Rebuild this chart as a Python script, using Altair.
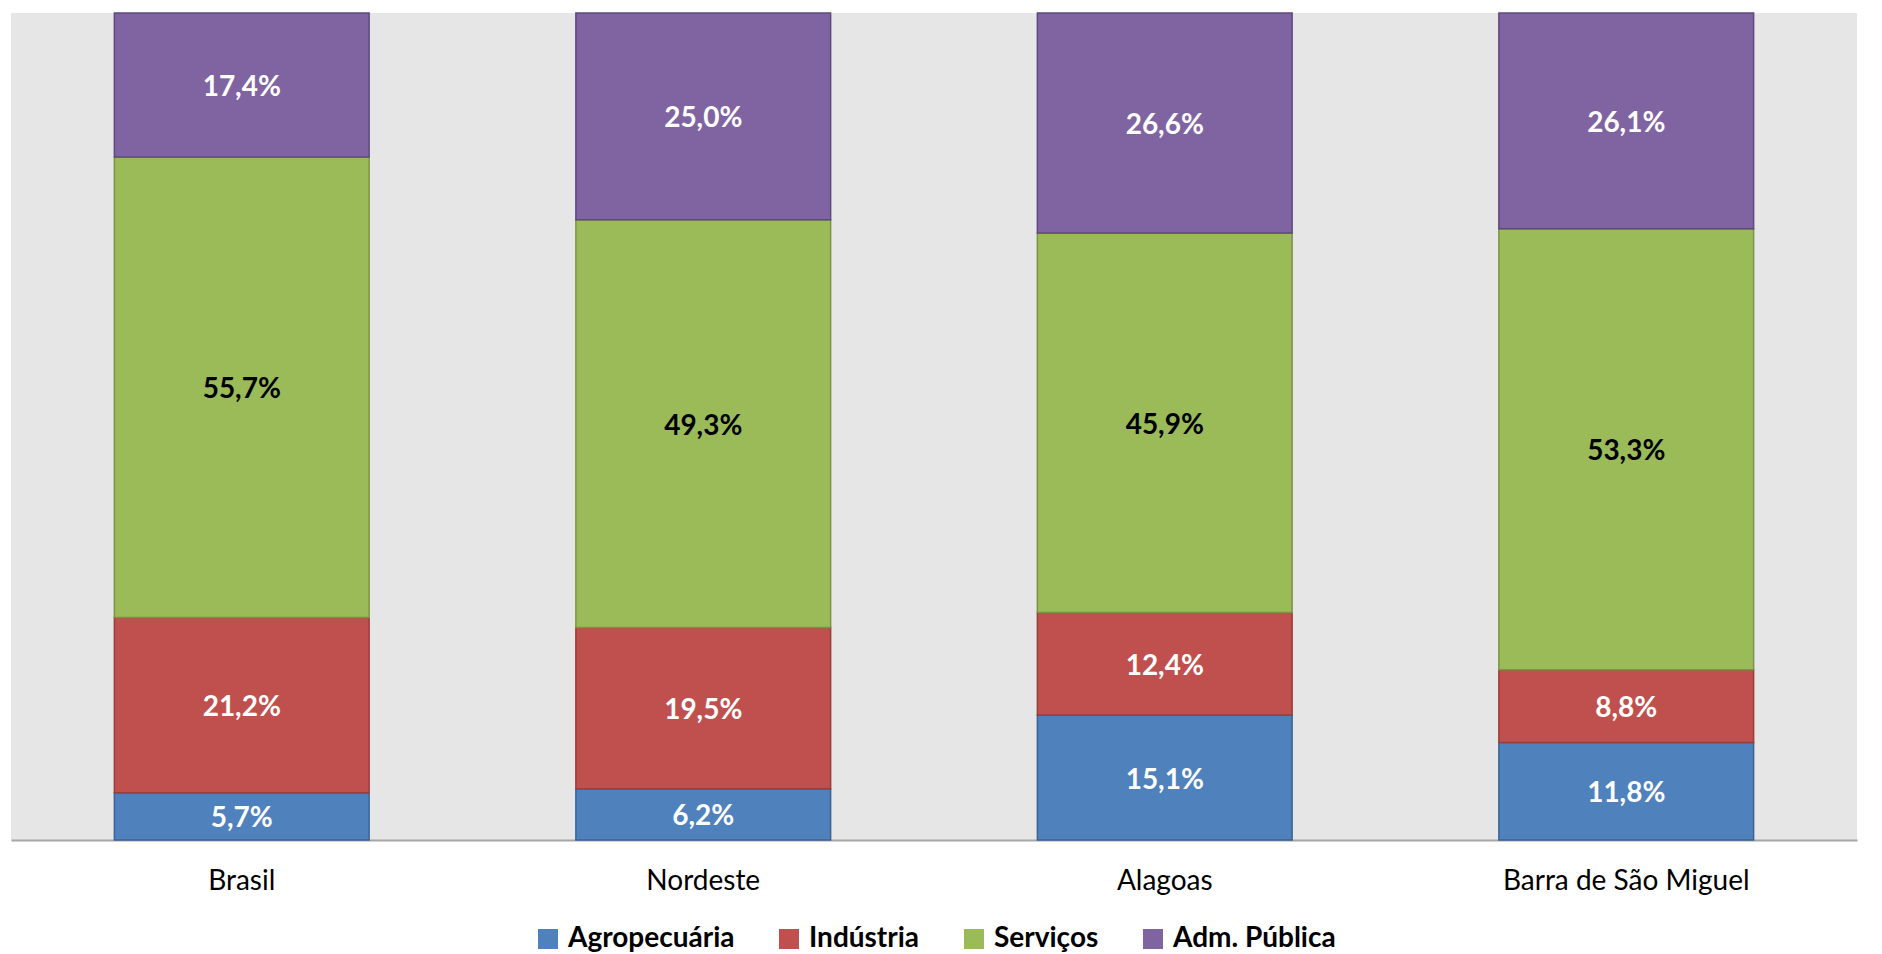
import altair as alt
import pandas as pd

regions = ["Brasil", "Nordeste", "Alagoas", "Barra de São Miguel"]
sectors = ["Agropecuária", "Indústria", "Serviços", "Adm. Pública"]
agro = [5.7, 6.2, 15.1, 11.8]
industria = [21.2, 19.5, 12.4, 8.8]
servicos = [55.7, 49.3, 45.9, 53.3]
adm = [17.4, 25.0, 26.6, 26.1]

colors = ["#4f81bd", "#c0504d", "#9bbb59", "#8064a2"]
strokes = ["#3b6494", "#9a3c3a", "#7a9444", "#5d497c"]

rows = []
for si, (s, vals) in enumerate(zip(sectors, [agro, industria, servicos, adm])):
    for r, v in zip(regions, vals):
        rows.append({"region": r, "sector": s, "order": si, "value": v,
                     "label": f"{v:.1f}%".replace(".", ",")})
df = pd.DataFrame(rows)

FONT = "Lato"

base = alt.Chart(df).transform_stack(
    stack="value", groupby=["region"], as_=["y0", "y1"],
    sort=[alt.SortField("order", order="ascending")]
).transform_calculate(mid="(datum.y0 + datum.y1) / 2")

x = alt.X("region:N", sort=regions, title=None,
          scale=alt.Scale(paddingInner=0.448, paddingOuter=0.224),
          axis=alt.Axis(labelAngle=0, labelFontSize=28, labelFont=FONT,
                        labelColor="#000000", ticks=False, domainColor="#a6a6a6",
                        domainWidth=2, labelPadding=27, grid=False, labelLimit=0))

bars = base.mark_bar(strokeWidth=1.5).encode(
    x=x,
    y=alt.Y("y0:Q", scale=alt.Scale(domain=[0, 100], nice=False), axis=None),
    y2="y1:Q",
    color=alt.Color("sector:N", sort=sectors,
                    scale=alt.Scale(domain=sectors, range=colors),
                    legend=alt.Legend(title=None, orient="none", direction="horizontal",
                                      legendX=523, legendY=912,
                                      symbolType="square", symbolSize=400,
                                      symbolStrokeWidth=0,
                                      labelFont=FONT, labelFontSize=28,
                                      labelFontWeight="bold", labelColor="#000000",
                                      columnPadding=40, labelOffset=6, labelLimit=0)),
    stroke=alt.Stroke("sector:N", sort=sectors,
                      scale=alt.Scale(domain=sectors, range=strokes), legend=None),
    order=alt.Order("order:Q"),
)

text = base.mark_text(font=FONT, fontSize=28, fontWeight="bold", dy=3).encode(
    x=alt.X("region:N", sort=regions),
    y=alt.Y("mid:Q"),
    text="label:N",
    color=alt.condition(alt.datum.sector == "Serviços", alt.value("#000000"), alt.value("#ffffff")),
)

chart = alt.layer(bars, text).properties(
    width=1846, height=827, background="#ffffff",
    padding={"left": 3, "top": 4, "right": 10, "bottom": 0},
).configure_view(fill="#e6e6e6", stroke=None)

chart.save("out.html", embed_options={"renderer": "svg", "actions": False})
